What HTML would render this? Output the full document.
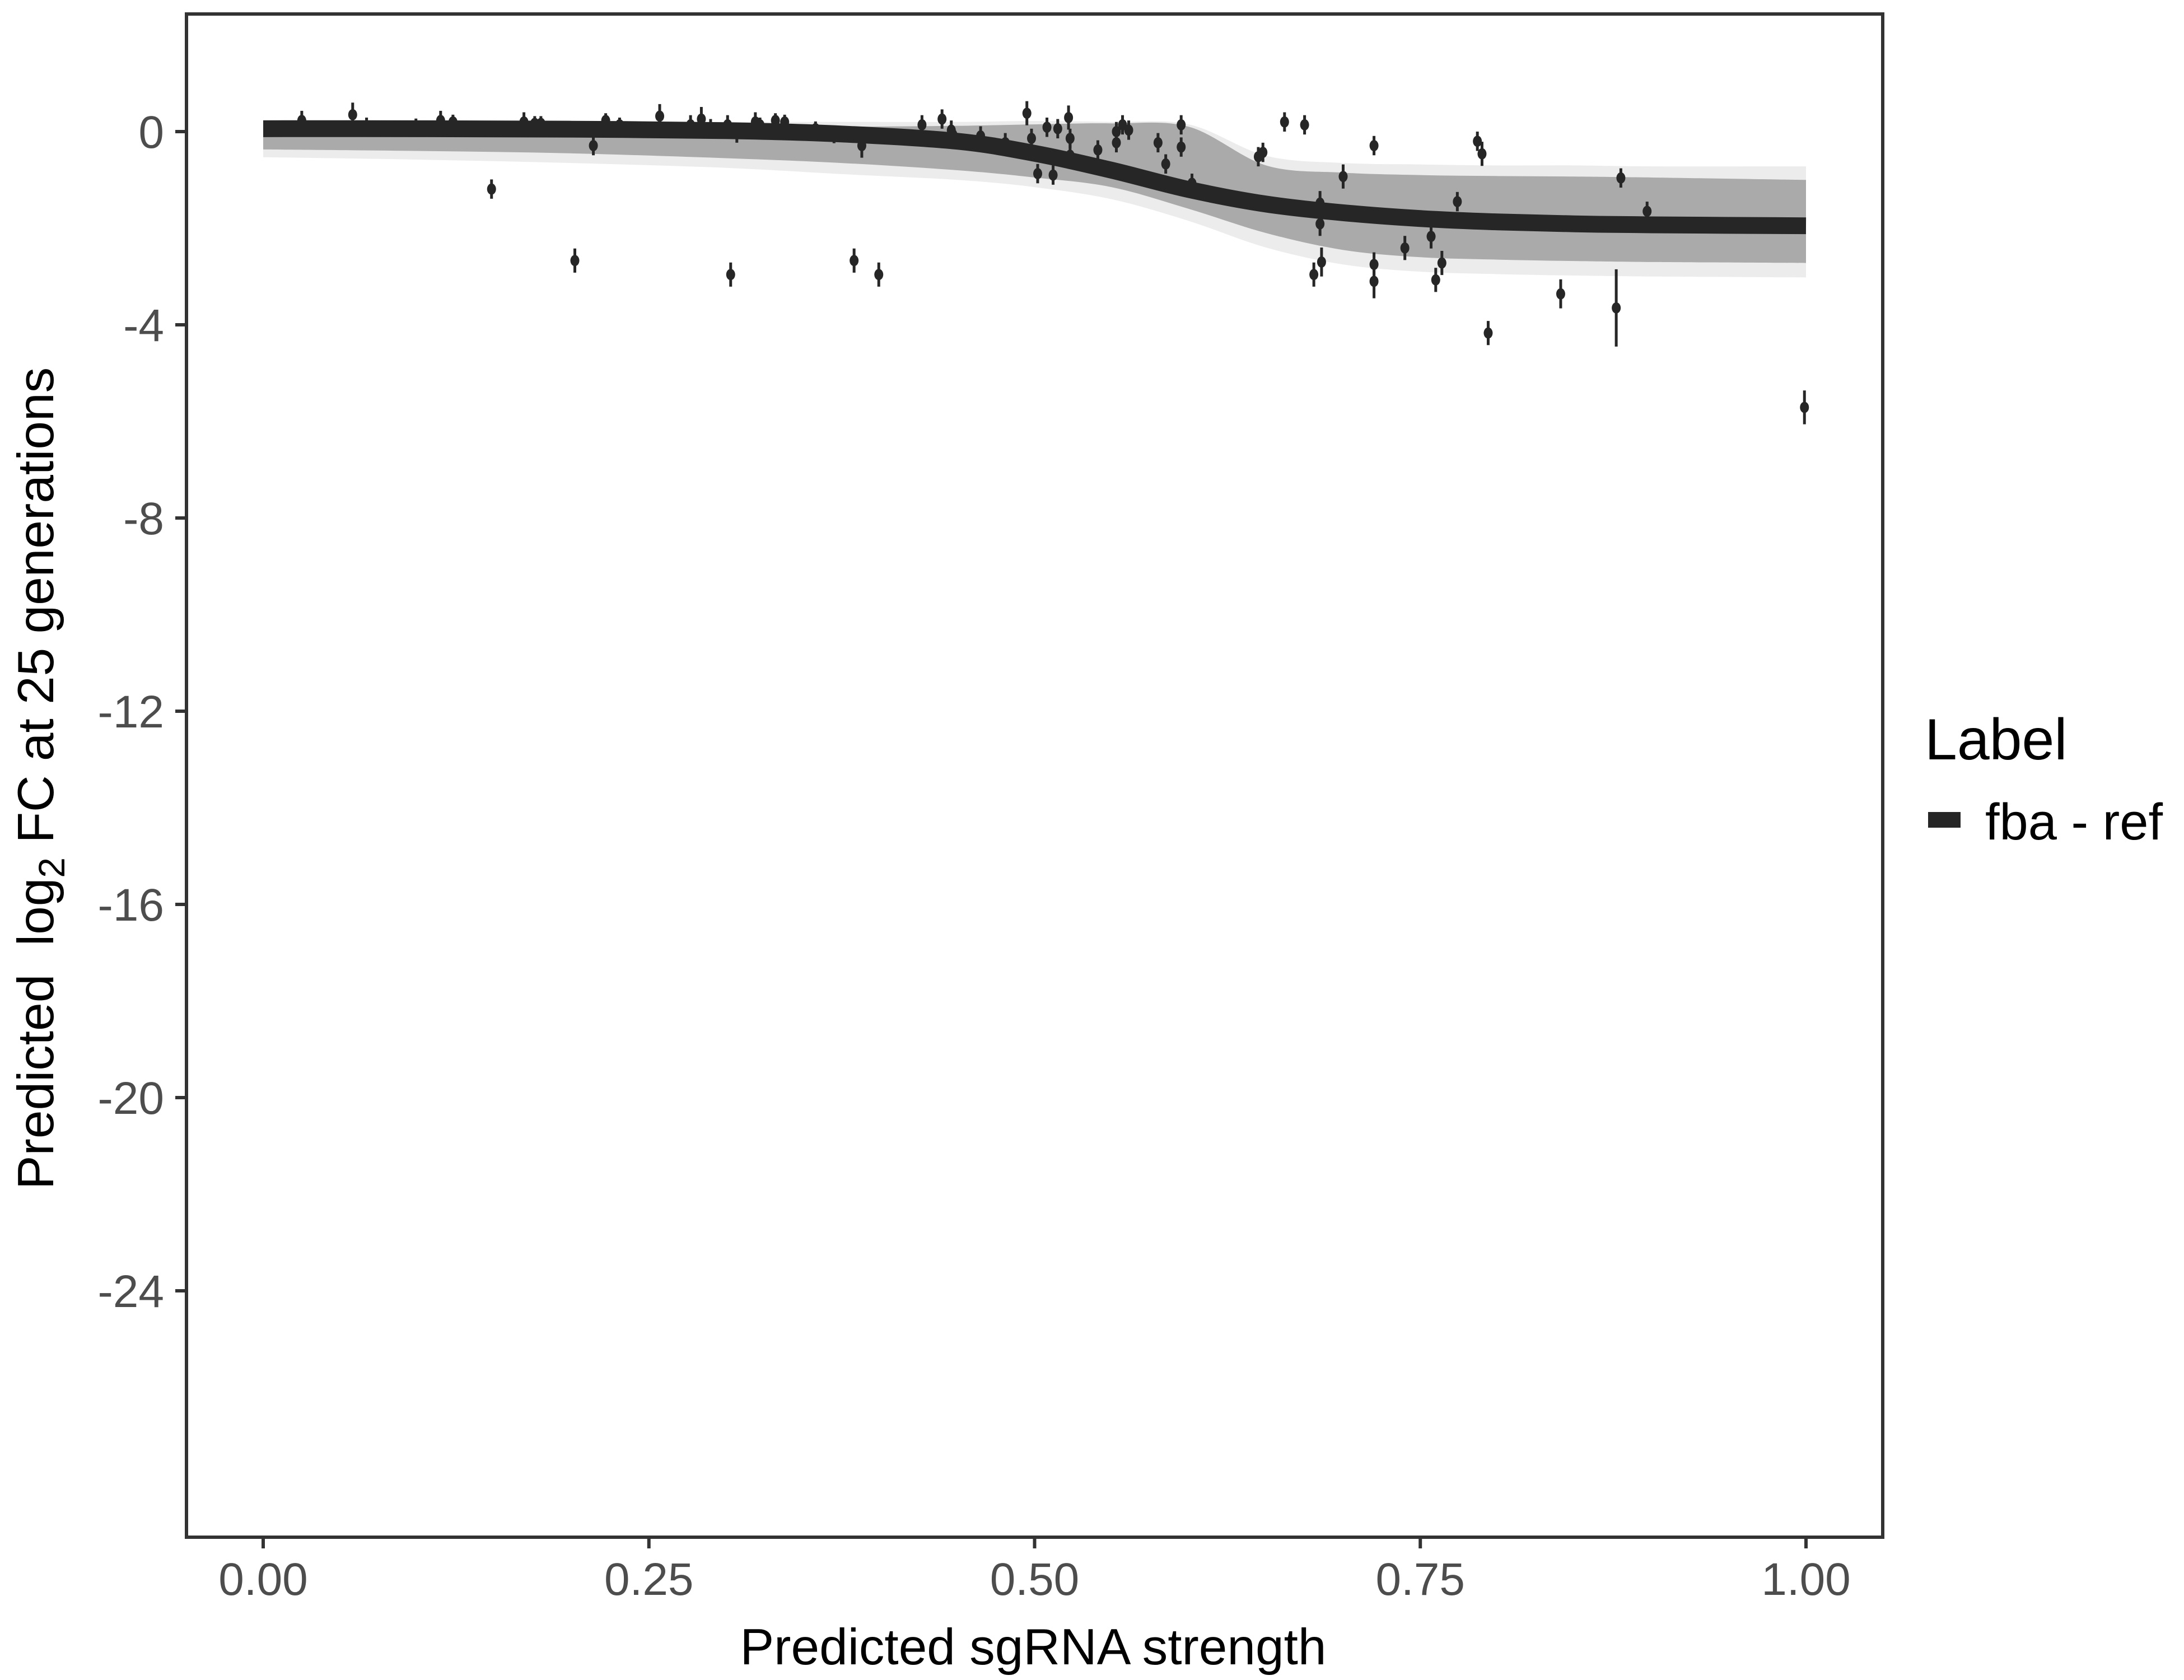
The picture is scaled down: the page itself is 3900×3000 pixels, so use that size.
<!DOCTYPE html>
<html><head><meta charset="utf-8"><style>
html,body{margin:0;padding:0;background:#fff;}
svg{display:block;font-family:"Liberation Sans",sans-serif;}
</style></head><body>
<svg id="chart" width="3900" height="3000" viewBox="0 0 3900 3000" xmlns="http://www.w3.org/2000/svg">
<g id="bands"></g>
<g id="meanline"></g>
<g id="points"></g>
<rect x="333" y="25" width="3029" height="2720" fill="none" stroke="#333" stroke-width="6"/>
<g id="xaxis"></g>
<g id="yaxis"></g>
<text x="1845" y="2972" font-size="91" text-anchor="middle" fill="#000">Predicted sgRNA strength</text>
<text transform="translate(95,1390) rotate(-90)" font-size="91" text-anchor="middle" fill="#000">Predicted&#160; log<tspan font-size="66" dy="20">2</tspan><tspan dy="-20"> FC at 25 generations</tspan></text>
<g>
<text x="3437" y="1356" font-size="104" fill="#000">Label</text>
<rect x="3443" y="1450" width="58" height="28" fill="#262626"/>
<text x="3545" y="1499" font-size="92" fill="#000">fba - ref</text>
</g>
</svg>
<script>
const ptX = [0.025,0.058,0.067,0.099,0.115,0.123,0.148,0.169,0.176,0.18,0.202,0.214,0.222,0.231,0.257,0.277,0.284,0.29,0.301,0.303,0.307,0.319,0.322,0.332,0.338,0.358,0.37,0.383,0.388,0.399,0.427,0.44,0.446,0.447,0.465,0.481,0.495,0.498,0.502,0.508,0.512,0.515,0.522,0.523,0.523,0.541,0.553,0.553,0.557,0.561,0.58,0.585,0.595,0.595,0.602,0.645,0.648,0.662,0.675,0.681,0.685,0.685,0.686,0.686,0.7,0.72,0.72,0.72,0.74,0.757,0.76,0.764,0.774,0.787,0.79,0.794,0.841,0.877,0.88,0.897,0.999];
const ptY = [0.23,0.35,0.09,0.12,0.23,0.2,-1.19,0.2,0.17,0.17,-2.67,-0.29,0.23,0.14,0.32,0.14,0.26,0.06,0.14,-2.96,-0.03,0.2,0.14,0.23,0.2,0.06,-0.09,-2.67,-0.29,-2.96,0.14,0.26,0.03,-0.06,-0.09,-0.23,0.38,-0.14,-0.87,0.09,-0.9,0.06,0.29,-0.14,-0.49,-0.38,0,-0.23,0.14,0.03,-0.23,-0.67,0.14,-0.32,-1.07,-0.52,-0.43,0.2,0.14,-2.96,-1.48,-1.91,-2.7,-1.68,-0.93,-0.29,-2.75,-3.1,-2.41,-2.17,-3.07,-2.72,-1.45,-0.2,-0.46,-4.17,-3.36,-3.65,-0.96,-1.65,-5.71];
const ptErr = [0.2,0.25,0.2,0.15,0.2,0.15,0.2,0.2,0.15,0.15,0.25,0.2,0.15,0.15,0.25,0.2,0.25,0.2,0.2,0.25,0.2,0.2,0.15,0.15,0.15,0.15,0.15,0.25,0.25,0.25,0.2,0.2,0.2,0.15,0.2,0.2,0.25,0.2,0.2,0.2,0.2,0.2,0.25,0.2,0.25,0.2,0.2,0.2,0.2,0.2,0.2,0.2,0.2,0.2,0.2,0.2,0.2,0.2,0.2,0.25,0.25,0.25,0.3,0.2,0.25,0.2,0.25,0.35,0.25,0.25,0.25,0.25,0.2,0.2,0.25,0.25,0.3,0.8,0.2,0.2,0.35];
const curveX = [0,0.1,0.2,0.3,0.375,0.45,0.5,0.55,0.6,0.65,0.7,0.75,0.8,0.85,0.9,1.0];
const curveMean = [0.06,0.06,0.05,0.02,-0.05,-0.2,-0.45,-0.8,-1.2,-1.5,-1.68,-1.8,-1.87,-1.91,-1.93,-1.95];
const bandUpper = [0.1,0.1,0.1,0.1,0.1,0.12,0.15,0.17,0.1,-0.7,-0.85,-0.9,-0.92,-0.93,-0.95,-1.0];
const bandLower = [-0.37,-0.4,-0.45,-0.55,-0.65,-0.8,-0.95,-1.15,-1.6,-2.1,-2.45,-2.6,-2.65,-2.68,-2.7,-2.72];
const fringeUpper = [0.2,0.2,0.2,0.2,0.2,0.2,0.22,0.2,0.15,-0.5,-0.65,-0.68,-0.7,-0.7,-0.72,-0.72];
const fringeLower = [-0.53,-0.58,-0.65,-0.75,-0.88,-1.0,-1.15,-1.4,-1.85,-2.4,-2.75,-2.9,-2.95,-2.98,-3.0,-3.02];
const xTicks = [0,0.25,0.5,0.75,1];
const xTickLabels = ["0.00","0.25","0.50","0.75","1.00"];
const yTicks = [0,-4,-8,-12,-16,-20,-24];
const yTickLabels = ["0","-4","-8","-12","-16","-20","-24"];

const NS = "http://www.w3.org/2000/svg";
const sx = v => 470 + v * 2755;
const sy = v => 235 - v * 86.25;
function mk(tag, attrs, parent){ const e=document.createElementNS(NS,tag); for(const k in attrs) e.setAttribute(k,attrs[k]); parent.appendChild(e); return e; }

function smoothPath(xs, ys){
  const p = xs.map((x,i)=>[sx(x), sy(ys[i])]);
  let d = "M"+p[0][0]+","+p[0][1];
  for(let i=0;i<p.length-1;i++){
    const p0=p[Math.max(0,i-1)], p1=p[i], p2=p[i+1], p3=p[Math.min(p.length-1,i+2)];
    const c1=[p1[0]+(p2[0]-p0[0])/6, p1[1]+(p2[1]-p0[1])/6];
    const c2=[p2[0]-(p3[0]-p1[0])/6, p2[1]-(p3[1]-p1[1])/6];
    d += " C"+c1[0]+","+c1[1]+" "+c2[0]+","+c2[1]+" "+p2[0]+","+p2[1];
  }
  return d;
}
function bandPath(xs, up, lo){
  const a = smoothPath(xs, up);
  const rx = xs.slice().reverse(), rl = lo.slice().reverse();
  const b = smoothPath(rx, rl).replace(/^M/, " L");
  return a + b + " Z";
}
const bands = document.getElementById('bands');
const f = mk('path', {d: bandPath(curveX, fringeUpper, fringeLower), fill:'#ececec'}, bands);


const b = mk('path', {d: bandPath(curveX, bandUpper, bandLower), fill:'#aaaaaa'}, bands);



const ml = document.getElementById('meanline');
const line = mk('path', {d: smoothPath(curveX, curveMean), fill:'none', stroke:'#262626', 'stroke-width':30}, ml);



const pts = document.getElementById('points');
ptX.forEach((x,i)=>{
  const g = mk('g', {}, pts);
  
  
  mk('line', {x1:sx(x), x2:sx(x), y1:sy(ptY[i]+ptErr[i]), y2:sy(ptY[i]-ptErr[i]), stroke:'#262626', 'stroke-width':5}, g);
  mk('ellipse', {cx:sx(x), cy:sy(ptY[i]), rx:8, ry:10, fill:'#262626'}, g);
});

const xa = document.getElementById('xaxis');
xTicks.forEach((t,i)=>{
  const tk = mk('line', {x1:sx(t), x2:sx(t), y1:2748, y2:2765, stroke:'#333', 'stroke-width':6}, xa);
  
  
  const lb = mk('text', {x:sx(t), y:2848, 'font-size':82, fill:'#4d4d4d', 'text-anchor':'middle'}, xa);
  lb.textContent = xTickLabels[i];
  
  
});
const ya = document.getElementById('yaxis');
yTicks.forEach((t,i)=>{
  const tk = mk('line', {x1:313, x2:330, y1:sy(t), y2:sy(t), stroke:'#333', 'stroke-width':6}, ya);
  
  
  const lb = mk('text', {x:293, y:sy(t)+29, 'font-size':82, fill:'#4d4d4d', 'text-anchor':'end'}, ya);
  lb.textContent = yTickLabels[i];
  
  
});
</script>
</body></html>
